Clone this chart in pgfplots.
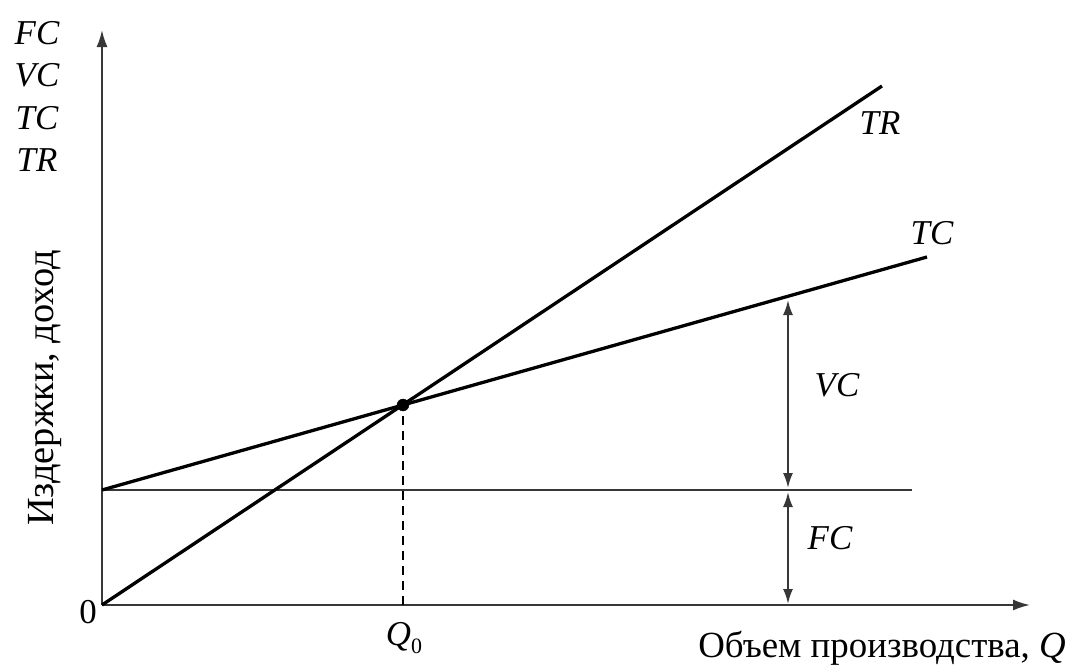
\documentclass[border=0pt]{standalone}
\usepackage{fontspec}
\setmainfont{Liberation Serif}
\usepackage{pgfplots}
\pgfplotsset{compat=1.18}
\usetikzlibrary{arrows.meta}
\definecolor{axgray}{RGB}{55,55,55}
\begin{document}
\fontsize{35}{42}\selectfont
\begin{tikzpicture}
\begin{axis}[
  x=1bp, y=1bp,
  xmin=0, xmax=928, ymin=0, ymax=575,
  hide axis, clip=false,
]
\coordinate (O) at (axis cs:0,0);
% axes
\addplot[axgray, line width=2bp, -{Latex[length=17bp,width=11bp]}] coordinates {(0,0) (928,0)};
\addplot[axgray, line width=2bp, -{Latex[length=17bp,width=11bp]}] coordinates {(0,0) (0,575)};
% FC line
\addplot[axgray, line width=2bp] coordinates {(0,115) (810,115)};
% TR
\addplot[black, line width=3.3bp] coordinates {(0,0) (780,519)};
% TC
\addplot[black, line width=3.3bp] coordinates {(0,115) (825,348)};
% dashed
\addplot[black, line width=2.6bp, dash pattern=on 9bp off 6bp] coordinates {(301,0) (301,200)};
% dot
\addplot[only marks, mark=*, mark size=6bp, black] coordinates {(301,200)};
% VC arrow
\addplot[axgray, line width=2bp, {Latex[length=15bp,width=10bp]}-{Latex[length=15bp,width=10bp]}] coordinates {(686,117) (686,305)};
% FC arrow
\addplot[axgray, line width=2bp, {Latex[length=15bp,width=10bp]}-{Latex[length=15bp,width=10bp]}] coordinates {(686,1) (686,113)};
% labels
\node at (axis cs:-65,572) {\itshape FC};
\node at (axis cs:-65,530) {\itshape VC};
\node at (axis cs:-65,487) {\itshape TC};
\node at (axis cs:-65,445) {\itshape TR};
\node[rotate=90] at (axis cs:-57,217) {\fontsize{38.5}{42}\selectfont Издержки, доход};
\node at (axis cs:-14,-7) {0};
\node at (axis cs:302,-33) {{\itshape Q}\raisebox{-0.22em}{\fontsize{22}{22}\selectfont 0}};
\node at (axis cs:780,-43) {\fontsize{37}{42}\selectfont Объем производства, \textit{Q}};
\node at (axis cs:778,482) {\itshape TR};
\node at (axis cs:830,372) {\itshape TC};
\node at (axis cs:735,220) {\itshape VC};
\node at (axis cs:728,67) {\itshape FC};
\end{axis}
\pgfresetboundingbox
\path[use as bounding box] ([shift={(-102bp,-61bp)}]O) rectangle ([shift={(977bp,605bp)}]O);
\end{tikzpicture}
\end{document}
